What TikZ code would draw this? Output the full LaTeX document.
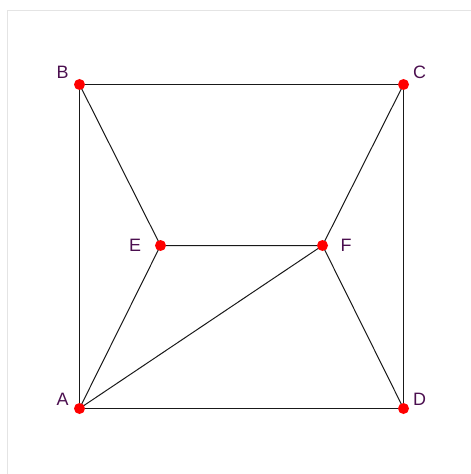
\documentclass[tikz,border=0pt]{standalone}
\usepackage{fontspec}
\setmainfont{Liberation Sans}
\definecolor{lbl}{HTML}{4B0F4F}
\definecolor{frame}{HTML}{E4E4E4}
\definecolor{dotred}{HTML}{FF0000}
\tikzset{
  pt/.style={circle, fill=dotred, inner sep=0pt, minimum size=11bp},
  lab/.style={text=lbl, font=\fontsize{18}{20}\selectfont, inner sep=0pt},
  edge/.style={draw=black!90, line width=1bp}
}
\begin{document}
\begin{tikzpicture}[x=1bp, y=-1bp]
\useasboundingbox (0,0) rectangle (471,474);
\draw[frame, line width=1bp] (7,474) -- (7,11) -- (471,11);
\coordinate (A) at (79.5,408.5);
\coordinate (B) at (79.5,84.5);
\coordinate (C) at (403.5,84.5);
\coordinate (D) at (403.5,408.5);
\coordinate (E) at (160.5,245.5);
\coordinate (F) at (322.5,245.5);
\draw[edge] (A) -- (B) -- (C) -- (D) -- (A);
\draw[edge] (B) -- (E) -- (F) -- (C);
\draw[edge] (A) -- (E);
\draw[edge] (A) -- (F) -- (D);
\node[pt] (nA) at (A) {};
\node[pt] (nB) at (B) {};
\node[pt] (nC) at (C) {};
\node[pt] (nD) at (D) {};
\node[pt] (nE) at (E) {};
\node[pt] (nF) at (F) {};
\node[lab] (lA) at (62.5,399.5) {A};
\node[lab] (lB) at (62.5,72.5) {B};
\node[lab] (lC) at (419.5,72.5) {C};
\node[lab] (lD) at (419.5,399.5) {D};
\node[lab] (lE) at (135,245) {E};
\node[lab] (lF) at (346,245) {F};
\end{tikzpicture}
\end{document}
